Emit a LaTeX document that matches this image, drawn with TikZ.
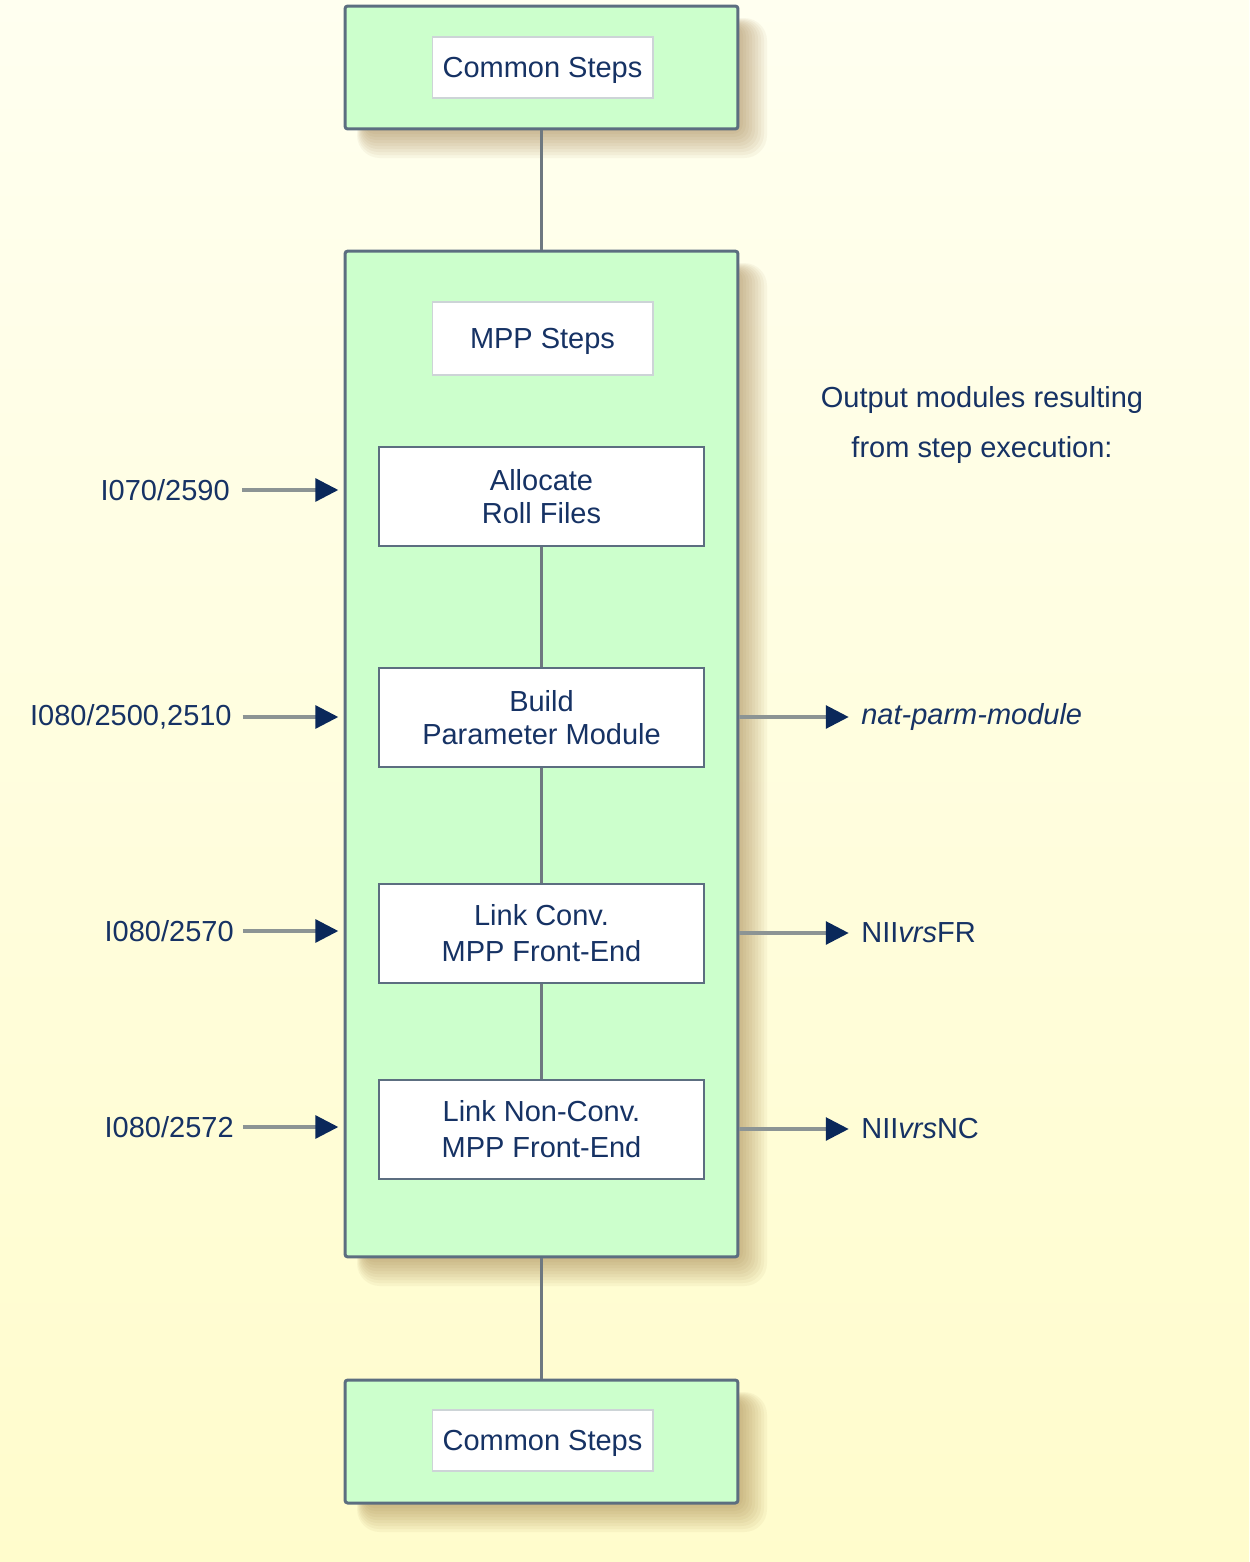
\documentclass[tikz,border=0pt]{standalone}
\usepackage{fontspec}
\setmainfont{Liberation Sans}
\usetikzlibrary{arrows.meta}
\definecolor{greenfill}{RGB}{204,255,204}
\definecolor{boxborder}{RGB}{92,110,128}
\definecolor{txt}{RGB}{22,50,100}
\definecolor{navy}{RGB}{10,40,90}
\definecolor{conn}{RGB}{110,120,128}
\definecolor{arrline}{RGB}{140,148,148}
\definecolor{innerborder}{RGB}{205,212,215}
\definecolor{shadowc}{RGB}{140,100,40}
\definecolor{bgtop}{RGB}{255,255,240}
\definecolor{bgbot}{RGB}{255,252,204}
\newcommand\softshadow[4]{%
  \foreach \r in {0,3,...,33}{%
    \fill[shadowc,fill opacity=0.055,rounded corners=\r*0.3pt+3pt]
      ({#1+22-\r*0.3},{#2+22-\r*0.3}) rectangle ({#3-4+\r},{#4-4+\r});}}
\begin{document}
\begin{tikzpicture}[x=0.02cm,y=-0.02cm,
  font=\fontsize{16.5}{20}\selectfont,
  outerbox/.style={draw=boxborder,fill=greenfill,line width=1.7pt,rounded corners=1.5pt,
    inner sep=0pt,minimum width=7.86cm},
  whitebox/.style={draw=innerborder,fill=white,line width=0.6pt,inner sep=0pt,
    minimum width=4.42cm,text=txt,text height=15.3pt,text depth=3.5pt},
  stepbox/.style={draw=boxborder,fill=white,line width=1.5pt,inner sep=0pt,
    minimum width=6.5cm,minimum height=1.98cm,align=center,text=txt,
    font=\fontsize{16.5}{18.5}\selectfont},
  link/.style={draw=conn,line width=1.6pt},
  inarrow/.style={draw=arrline,line width=1.8pt,
    -{Triangle[length=13pt,width=13pt,color=navy]}},
  lab/.style={text=txt,inner sep=0pt},
]
\useasboundingbox (0,0) rectangle (1249,1562);
\shade[top color=bgtop,bottom color=bgbot] (0,0) rectangle (1249,1562);

\softshadow{345}{6}{738}{129}
\softshadow{345}{251}{738}{1257}
\softshadow{345}{1380}{738}{1503}

\node[outerbox,minimum height=2.46cm] (common1) at (541.5,67.5) {};
\node[outerbox,minimum height=20.12cm] (mpp) at (541.5,754) {};
\node[outerbox,minimum height=2.46cm] (common2) at (541.5,1441.5) {};

\draw[link] (common1.south) -- (mpp.north);
\draw[link] (mpp.south) -- (common2.north);

\node[whitebox,minimum height=1.22cm] (cs1) at (542.5,67.5) {Common Steps};
\node[whitebox,minimum height=1.46cm] (mppsteps) at (542.5,338.5) {MPP Steps};
\node[whitebox,minimum height=1.22cm] (cs2) at (542.5,1440.5) {Common Steps};

\node[stepbox] (alloc) at (541.5,496.5) {Allocate\\Roll Files};
\node[stepbox] (build) at (541.5,717.5) {Build\\Parameter Module};
\node[stepbox] (linkc) at (541.5,933.5) {Link Conv.\\[2pt]MPP Front-End};
\node[stepbox] (linknc) at (541.5,1129.5) {Link Non-Conv.\\[2pt]MPP Front-End};

\draw[link] (alloc.south) -- (build.north);
\draw[link] (build.south) -- (linkc.north);
\draw[link] (linkc.south) -- (linknc.north);

% left inputs
\node[lab,anchor=east] (in1) at (230,490) {I070/2590};
\node[lab,anchor=east] (in2) at (232,717) {I080/2500,2510};
\node[lab,anchor=east] (in3) at (234,931) {I080/2570};
\node[lab,anchor=east] (in4) at (234,1127) {I080/2572};
\draw[inarrow] ([xshift=7pt]in1.east) -- ([xshift=-3pt]in1.east -| mpp.west);
\draw[inarrow] ([xshift=6pt]in2.east) -- ([xshift=-3pt]in2.east -| mpp.west);
\draw[inarrow] ([xshift=5pt]in3.east) -- ([xshift=-3pt]in3.east -| mpp.west);
\draw[inarrow] ([xshift=5pt]in4.east) -- ([xshift=-3pt]in4.east -| mpp.west);

% right outputs
\node[lab,align=center,font=\fontsize{16.5}{28}\selectfont] (outhead) at (982,425)
  {Output modules resulting\\from step execution:};
\node[lab,anchor=west] (out1) at (861,717) {\itshape nat-parm-module};
\node[lab,anchor=west] (out2) at (861,933) {NII\textit{vrs}FR};
\node[lab,anchor=west] (out3) at (861,1129) {NII\textit{vrs}NC};
\draw[inarrow] (out1.west -| mpp.east) -- ([xshift=-7pt]out1.west);
\draw[inarrow] (out2.west -| mpp.east) -- ([xshift=-7pt]out2.west);
\draw[inarrow] (out3.west -| mpp.east) -- ([xshift=-7pt]out3.west);
\end{tikzpicture}
\end{document}
